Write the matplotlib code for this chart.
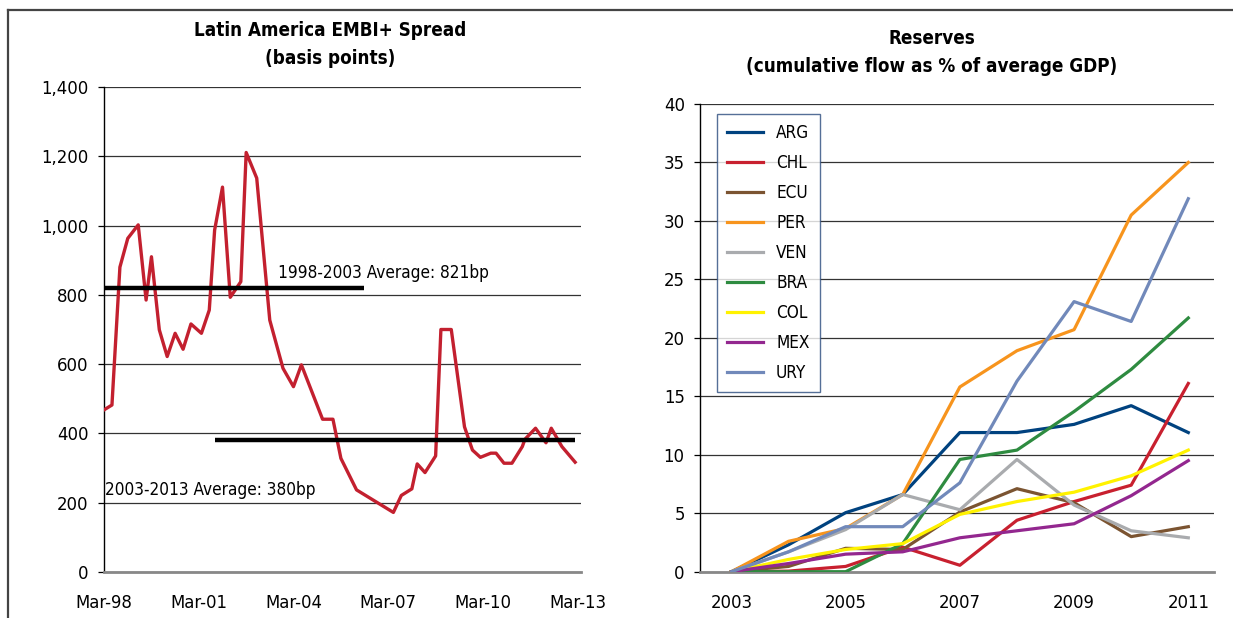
import numpy as np
import pandas as pd
import matplotlib
matplotlib.use("Agg")
import matplotlib.pyplot as plt
import matplotlib.dates as mdates
from matplotlib.lines import Line2D
from matplotlib import font_manager

# the original uses a condensed sans; pick the narrowest one available
fonts = font_manager.fontManager.ttflist
narrow = [f for f in fonts if f.name == 'Liberation Sans Narrow']
cond = [f for f in fonts if f.name == 'DejaVu Sans' and 'ondensed' in f.fname]
if narrow:
    FAMILY, STRETCH, SCALE = 'Liberation Sans Narrow', 'normal', 1.0
elif cond:
    FAMILY, STRETCH, SCALE = 'DejaVu Sans', 'condensed', 0.92
else:
    FAMILY, STRETCH, SCALE = 'Liberation Sans', 'normal', 0.88
plt.rcParams['font.family'] = [FAMILY, 'DejaVu Sans']
plt.rcParams['font.stretch'] = STRETCH

# ---- left panel: EMBI+ spread (bp) ----
embi_dates = ['1998-03', '1998-06', '1998-09', '1998-12', '1999-04', '1999-07', '1999-09',
              '1999-12', '2000-03', '2000-06', '2000-09', '2000-12', '2001-04', '2001-07',
              '2001-09', '2001-12', '2002-03', '2002-07', '2002-09', '2003-01', '2003-06',
              '2003-11', '2004-03', '2004-06', '2005-02', '2005-06', '2005-09', '2006-03',
              '2007-05', '2007-08', '2007-12', '2008-02', '2008-05', '2008-09', '2008-11',
              '2009-03', '2009-08', '2009-11', '2010-02', '2010-06', '2010-08', '2010-11',
              '2011-02', '2011-06', '2011-07', '2011-11', '2012-03', '2012-05', '2012-09',
              '2013-02']
embi_spread = [468, 482, 880, 963, 1002, 785, 910, 699, 622, 689, 643, 716, 689, 756,
               987, 1111, 793, 838, 1211, 1137, 727, 588, 535, 598, 441, 441, 328, 237,
               172, 221, 240, 312, 287, 335, 700, 700, 419, 352, 331, 343, 343, 314,
               314, 362, 383, 415, 373, 415, 362, 317]

avg_labels = ['1998-2003 Average: 821bp', '2003-2013 Average: 380bp']
avg_values = [821, 380]
avg_start = ['1998-03', '2001-09']
avg_end = ['2006-06', '2013-02']

# ---- right panel: reserves, cumulative flow as % of average GDP ----
years = [2003, 2004, 2005, 2006, 2007, 2008, 2009, 2010, 2011]
countries = ['ARG', 'CHL', 'ECU', 'PER', 'VEN', 'BRA', 'COL', 'MEX', 'URY']
arg = [0, 2.3, 5.05, 6.6, 11.9, 11.9, 12.6, 14.2, 11.9]
chl = [0, 0.05, 0.45, 2.1, 0.55, 4.4, 6.0, 7.4, 16.1]
ecu = [0, 0.45, 2.0, 1.9, 5.1, 7.1, 5.9, 3.0, 3.85]
per = [0, 2.6, 3.7, 6.6, 15.8, 18.9, 20.7, 30.5, 35.0]
ven = [0, 1.7, 3.6, 6.6, 5.3, 9.6, 5.7, 3.5, 2.9]
bra = [0, 0, 0, 2.4, 9.6, 10.4, 13.7, 17.3, 21.7]
col = [0, 1.05, 1.9, 2.4, 4.9, 6.0, 6.8, 8.2, 10.4]
mex = [0, 0.7, 1.5, 1.7, 2.9, 3.5, 4.1, 6.5, 9.5]
ury = [0, 1.7, 3.85, 3.85, 7.6, 16.3, 23.1, 21.4, 31.9]
reserves = [arg, chl, ecu, per, ven, bra, col, mex, ury]
colors = ['#00427f', '#c8202f', '#7b5431', '#f7941d', '#a9abae',
          '#2e8b40', '#fff200', '#93278f', '#7189ba']

FS = 13.4 * SCALE
TICK_FS = 14.4 * SCALE
TFS = 14.7 * SCALE
fig = plt.figure(figsize=(12.33, 6.18), dpi=100)

# outer frame (top and left edges visible)
fig.add_artist(Line2D([8 / 1233, 8 / 1233], [0, 1 - 10 / 618], color='#444444', lw=1.6))
fig.add_artist(Line2D([8 / 1233, 1], [1 - 10 / 618, 1 - 10 / 618], color='#444444', lw=1.6))


def style_axes(ax):
    for s in ['top', 'right']:
        ax.spines[s].set_visible(False)
    ax.spines['left'].set_color('black')
    ax.spines['left'].set_linewidth(1.0)
    ax.spines['bottom'].set_color('#888888')
    ax.spines['bottom'].set_linewidth(2.0)
    ax.grid(axis='y', color='#333333', lw=0.9)
    ax.set_axisbelow(True)
    ax.tick_params(axis='y', length=4, width=0.9, pad=7, labelsize=TICK_FS)
    ax.tick_params(axis='x', length=0, pad=16, labelsize=TICK_FS)


# left chart
ax1 = fig.add_axes([104 / 1233, 1 - 572 / 618, 477 / 1233, 485 / 618])
style_axes(ax1)
x_embi = pd.to_datetime(embi_dates)
ax1.plot(x_embi, embi_spread, color='#c3202f', lw=2.4, zorder=3)
for s, e, v in zip(avg_start, avg_end, avg_values):
    ax1.plot(pd.to_datetime([s, e]), [v, v], color='black', lw=3.2, zorder=4,
             solid_capstyle='butt')
ax1.text(pd.Timestamp('2003-09-01'), 848, avg_labels[0], fontsize=FS, va='baseline')
ax1.text(pd.Timestamp('1998-03-15'), 222, avg_labels[1], fontsize=FS, va='baseline')
ax1.set_ylim(0, 1400)
ax1.set_yticks(range(0, 1401, 200))
ax1.yaxis.set_major_formatter(matplotlib.ticker.FuncFormatter(lambda v, p: f'{int(v):,}'))
ax1.set_xlim(pd.Timestamp('1998-03-01'), pd.Timestamp('2013-04-10'))
ax1.set_xticks(pd.to_datetime(['1998-03', '2001-03', '2004-03', '2007-03', '2010-03', '2013-03']))
ax1.xaxis.set_major_formatter(mdates.DateFormatter('%b-%y'))
fig.text(330 / 1233, 1 - 31 / 618, 'Latin America EMBI+ Spread', ha='center', va='center',
         fontsize=TFS, fontweight='bold')
fig.text(330 / 1233, 1 - 59 / 618, '(basis points)', ha='center', va='center',
         fontsize=TFS, fontweight='bold')

# right chart
ax2 = fig.add_axes([700 / 1233, 1 - 571.7 / 618, 514 / 1233, 467.7 / 618])
style_axes(ax2)
for name, vals, c in zip(countries, reserves, colors):
    ax2.plot(years, vals, color=c, lw=2.3, label=name, zorder=3)
ax2.set_ylim(0, 40)
ax2.set_yticks(range(0, 41, 5))
ax2.set_xlim(2002.45, 2011.45)
ax2.set_xticks([2003, 2005, 2007, 2009, 2011])
leg = ax2.legend(loc='upper left', bbox_to_anchor=(0.033, 0.979), fontsize=FS,
                 frameon=True, fancybox=False, handlelength=2.1, handletextpad=0.75,
                 labelspacing=0.7, borderpad=0.6, borderaxespad=0)
leg.get_frame().set_edgecolor('#2b4b7d')
leg.get_frame().set_linewidth(1.0)
fig.text(932 / 1233, 1 - 38 / 618, 'Reserves', ha='center', va='center',
         fontsize=TFS, fontweight='bold')
fig.text(932 / 1233, 1 - 66 / 618, '(cumulative flow as % of average GDP)', ha='center',
         va='center', fontsize=TFS, fontweight='bold')

fig.savefig('out.png', dpi=100)
